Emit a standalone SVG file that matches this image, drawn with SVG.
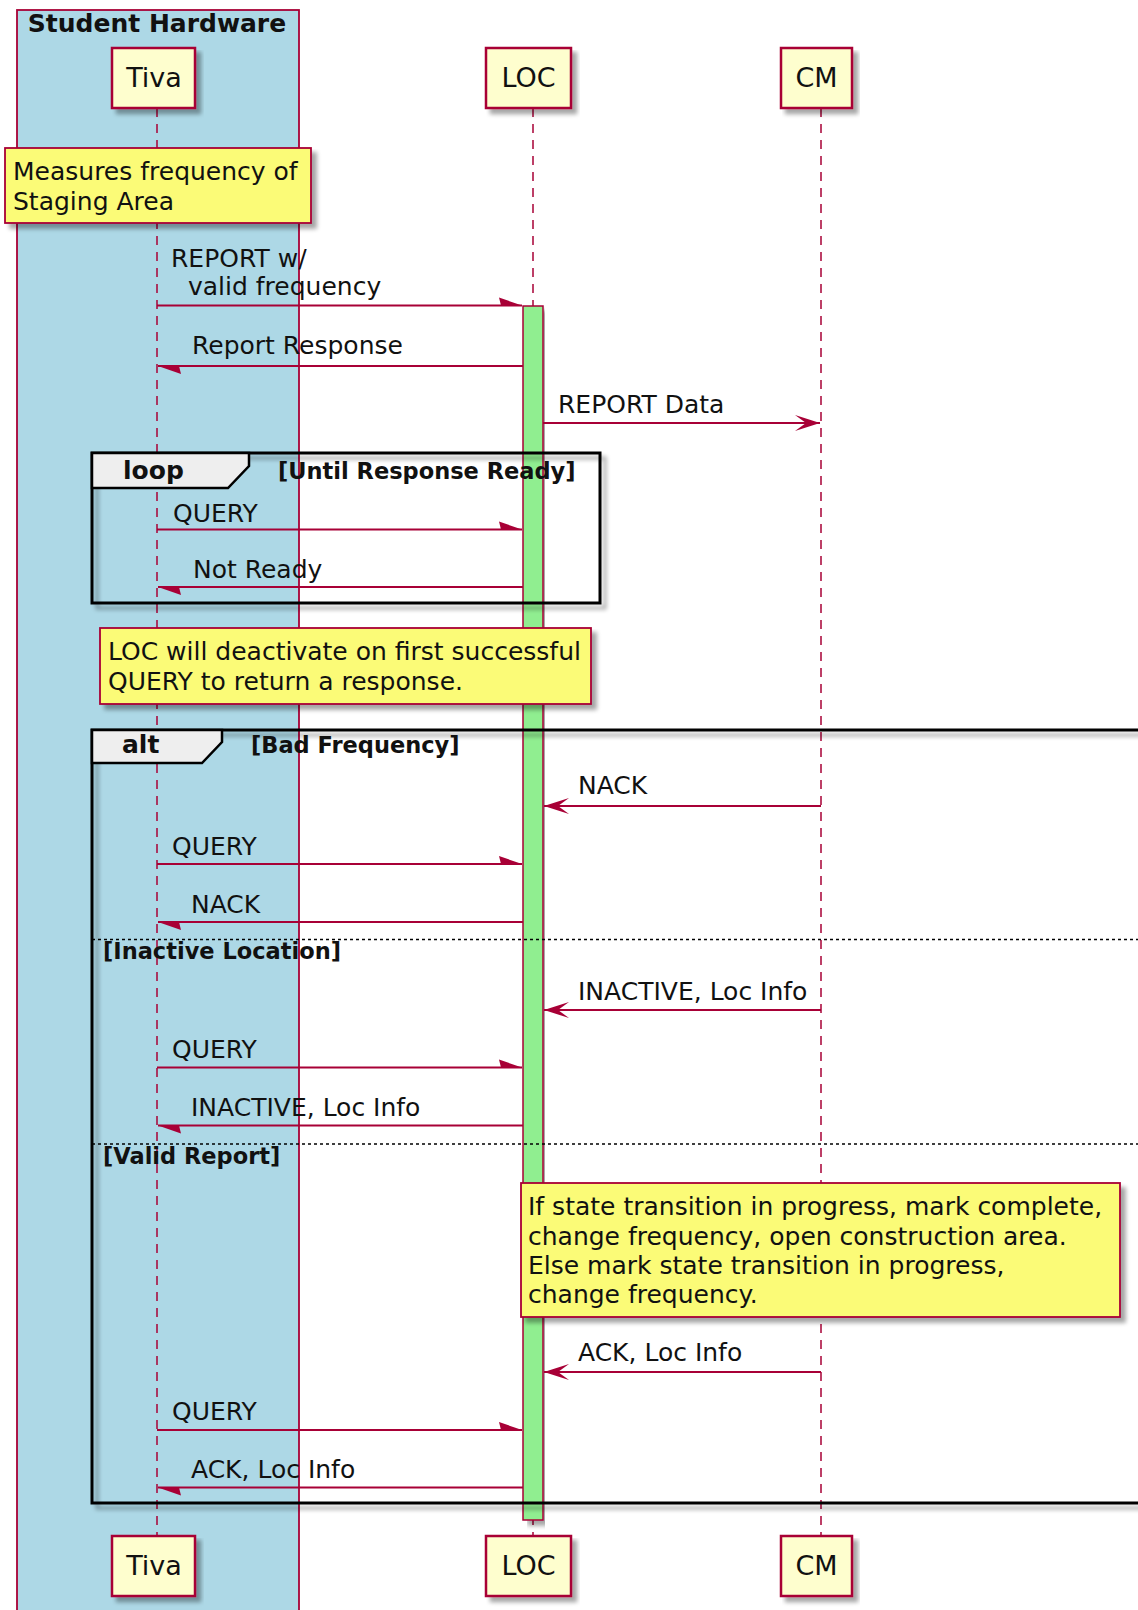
<svg xmlns="http://www.w3.org/2000/svg" width="1138" height="1610" viewBox="0 0 1138 1610">
<style>
.t{font-family:"DejaVu Sans",Verdana,sans-serif;font-size:25px;fill:#111}
.b{font-weight:bold}
.g{font-size:22.5px}
.p{font-size:27px;text-anchor:middle}
.msg{stroke:#A80036;stroke-width:1.8;fill:none}
.life{stroke:#A80036;stroke-width:1.5;stroke-dasharray:9,7;fill:none}
.part{fill:#FEFECE;stroke:#A80036;stroke-width:2.5}
.note{fill:#FBFB77;stroke:#A80036;stroke-width:1.8}
.frame{fill:none;stroke:#000;stroke-width:3}
.tab{fill:#EEEEEE;stroke:#000;stroke-width:2.5}
.sep{stroke:#000;stroke-width:1.5;stroke-dasharray:3,3;fill:none}
</style>
<defs>
<filter id="sh" x="-5%" y="-5%" width="115%" height="130%">
<feGaussianBlur in="SourceAlpha" stdDeviation="2.2"/>
<feOffset dx="5" dy="5"/>
<feComponentTransfer><feFuncA type="linear" slope="0.35"/></feComponentTransfer>
<feMerge><feMergeNode/><feMergeNode in="SourceGraphic"/></feMerge>
</filter>
<marker id="full" markerUnits="userSpaceOnUse" markerWidth="26" markerHeight="18" viewBox="0 0 26 18" refX="25" refY="9" orient="auto">
<path d="M25,9 L0,1 L11,9 L0,17 Z" fill="#A80036"/>
</marker>
<marker id="half" markerUnits="userSpaceOnUse" markerWidth="24" markerHeight="10" viewBox="0 0 24 10" refX="23" refY="9" orient="auto">
<path d="M23,9 L0,1 L2,9 Z" fill="#A80036"/>
</marker>
</defs>
<rect width="1138" height="1610" fill="#fff"/>

<g id="box-student-hardware">
<rect x="17" y="10" width="282" height="1620" fill="#ADD8E6" stroke="#A80036" stroke-width="1.8"/>
<text class="t b" x="157" y="32" font-size="26.5" text-anchor="middle">Student Hardware</text>
</g>

<g id="lifelines">
<line class="life" x1="157" y1="108" x2="157" y2="1536"/>
<line class="life" x1="533" y1="108" x2="533" y2="1536"/>
<line class="life" x1="821" y1="108" x2="821" y2="1536"/>
</g>

<g id="tiva">
<rect class="part" x="112" y="48" width="83" height="60" filter="url(#sh)"/>
<text class="t p" x="154" y="87">Tiva</text>
<rect class="part" x="112" y="1536" width="83" height="60" filter="url(#sh)"/>
<text class="t p" x="154" y="1575">Tiva</text>
</g>
<g id="loc">
<rect class="part" x="486" y="48" width="85" height="60" filter="url(#sh)"/>
<text class="t p" x="528.5" y="87">LOC</text>
<rect class="part" x="486" y="1536" width="85" height="60" filter="url(#sh)"/>
<text class="t p" x="528.5" y="1575">LOC</text>
</g>
<g id="cm">
<rect class="part" x="781" y="48" width="71" height="60" filter="url(#sh)"/>
<text class="t p" x="816.5" y="87">CM</text>
<rect class="part" x="781" y="1536" width="71" height="60" filter="url(#sh)"/>
<text class="t p" x="816.5" y="1575">CM</text>
</g>

<g id="loc-activation">
<rect x="523" y="306" width="20" height="1214" fill="#90EE90" stroke="#A80036" stroke-width="1.5" filter="url(#sh)"/>
</g>

<g id="note-measures">
<rect class="note" x="5" y="148" width="306" height="75" filter="url(#sh)"/>
<text class="t" x="13" y="180">Measures frequency of</text>
<text class="t" x="13" y="210">Staging Area</text>
</g>

<g id="loop-frame">
<rect class="frame" x="92" y="453" width="508" height="150" filter="url(#sh)"/>
<path class="tab" d="M92,453 H249 V466 L228,488 H92 Z"/>
<text class="t b" x="123" y="479">loop</text>
<text class="t b g" x="278" y="479">[Until Response Ready]</text>
</g>

<g id="note-deactivate">
<rect class="note" x="100" y="628" width="491" height="76" filter="url(#sh)"/>
<text class="t" x="108" y="660">LOC will deactivate on first successful</text>
<text class="t" x="108" y="690">QUERY to return a response.</text>
</g>

<g id="alt-frame">
<rect class="frame" x="92" y="730" width="1070" height="773" filter="url(#sh)"/>
<path class="tab" d="M92,730 H222 V742 L202,763 H92 Z"/>
<text class="t b" x="122" y="753">alt</text>
<text class="t b g" x="251" y="753">[Bad Frequency]</text>
<line class="sep" x1="92" y1="939.5" x2="1138" y2="939.5"/>
<text class="t b g" x="103" y="959">[Inactive Location]</text>
<line class="sep" x1="92" y1="1144" x2="1138" y2="1144"/>
<text class="t b g" x="103" y="1164">[Valid Report]</text>
</g>

<g id="note-transition">
<rect class="note" x="521" y="1183" width="599" height="134" filter="url(#sh)"/>
<text class="t" x="528" y="1215">If state transition in progress, mark complete,</text>
<text class="t" x="528" y="1245">change frequency, open construction area.</text>
<text class="t" x="528" y="1274">Else mark state transition in progress,</text>
<text class="t" x="528" y="1303">change frequency.</text>
</g>

<g id="connectors">
<line class="msg" x1="157" y1="305.5" x2="522" y2="305.5" marker-end="url(#half)"/>
<text class="t" x="171" y="267">REPORT w/</text>
<text class="t" x="188" y="295">valid frequency</text>

<line class="msg" x1="523" y1="366" x2="158" y2="366" marker-end="url(#half)"/>
<text class="t" x="192" y="354">Report Response</text>

<line class="msg" x1="543" y1="423" x2="820" y2="423" marker-end="url(#full)"/>
<text class="t" x="558" y="413">REPORT Data</text>

<line class="msg" x1="157" y1="529.5" x2="522" y2="529.5" marker-end="url(#half)"/>
<text class="t" x="173" y="522">QUERY</text>

<line class="msg" x1="523" y1="587" x2="158" y2="587" marker-end="url(#half)"/>
<text class="t" x="193" y="578">Not Ready</text>

<line class="msg" x1="821" y1="806" x2="544" y2="806" marker-end="url(#full)"/>
<text class="t" x="578" y="794">NACK</text>

<line class="msg" x1="157" y1="864" x2="522" y2="864" marker-end="url(#half)"/>
<text class="t" x="172" y="855">QUERY</text>

<line class="msg" x1="523" y1="922" x2="158" y2="922" marker-end="url(#half)"/>
<text class="t" x="191" y="913">NACK</text>

<line class="msg" x1="821" y1="1010" x2="544" y2="1010" marker-end="url(#full)"/>
<text class="t" x="578" y="1000">INACTIVE, Loc Info</text>

<line class="msg" x1="157" y1="1067.5" x2="522" y2="1067.5" marker-end="url(#half)"/>
<text class="t" x="172" y="1058">QUERY</text>

<line class="msg" x1="523" y1="1125.5" x2="158" y2="1125.5" marker-end="url(#half)"/>
<text class="t" x="191" y="1116">INACTIVE, Loc Info</text>

<line class="msg" x1="821" y1="1372" x2="544" y2="1372" marker-end="url(#full)"/>
<text class="t" x="578" y="1361">ACK, Loc Info</text>

<line class="msg" x1="157" y1="1430" x2="522" y2="1430" marker-end="url(#half)"/>
<text class="t" x="172" y="1420">QUERY</text>

<line class="msg" x1="523" y1="1487.5" x2="158" y2="1487.5" marker-end="url(#half)"/>
<text class="t" x="191" y="1478">ACK, Loc Info</text>
</g>
</svg>
